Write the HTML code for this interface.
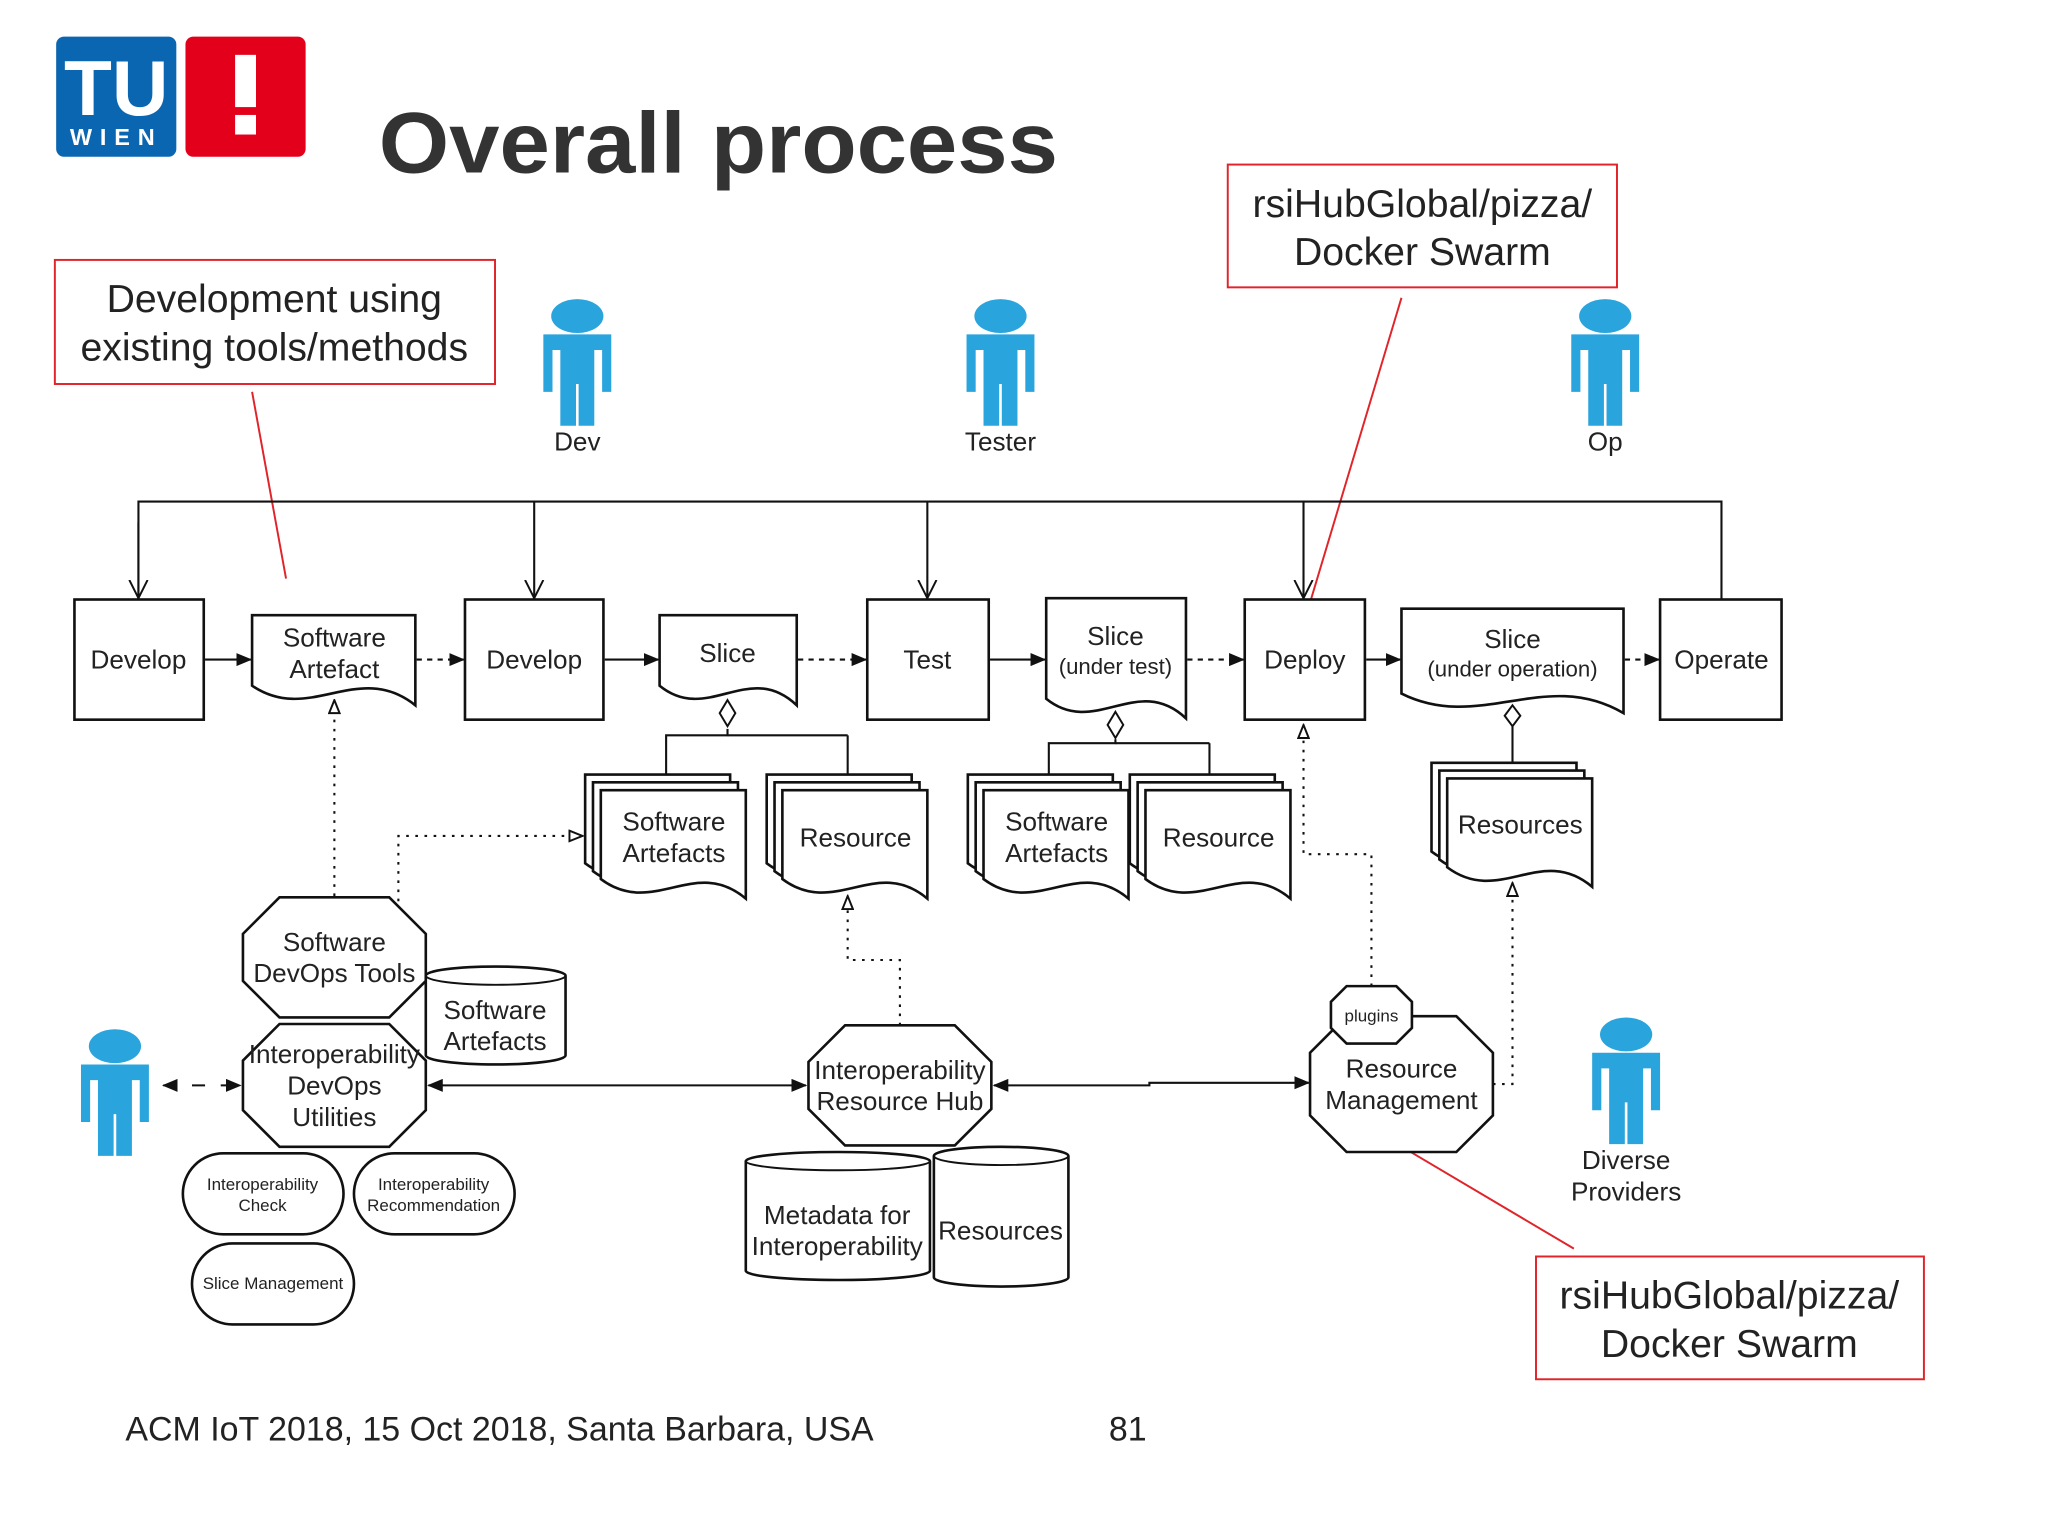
<!DOCTYPE html>
<html><head><meta charset="utf-8"><style>
html,body{margin:0;padding:0;background:#fff;}
svg{display:block;}
text{font-family:"Liberation Sans",sans-serif;fill:#222;}
</style></head><body>
<svg width="2048" height="1536" viewBox="0 0 1568 1176" xmlns="http://www.w3.org/2000/svg">
<defs>
<marker id="af" markerWidth="12" markerHeight="10" refX="11" refY="5" orient="auto" markerUnits="userSpaceOnUse"><path d="M0,0 L12,5 L0,10 Z" fill="#111"/></marker>
<marker id="afs" markerWidth="12" markerHeight="10" refX="1" refY="5" orient="auto" markerUnits="userSpaceOnUse"><path d="M12,0 L0,5 L12,10 Z" fill="#111"/></marker>
<marker id="av" markerWidth="16" markerHeight="16" refX="14" refY="8" orient="auto" markerUnits="userSpaceOnUse"><path d="M0,1 L14,8 L0,15" fill="none" stroke="#111" stroke-width="1.5"/></marker>
<marker id="ao" markerWidth="12" markerHeight="10" refX="11" refY="5" orient="auto" markerUnits="userSpaceOnUse"><path d="M1,1 L11,5 L1,9 Z" fill="#fff" stroke="#111" stroke-width="1.5"/></marker>
<path id="sd" d="M0 0 H111 V83 C72 50 40 98 0 68 Z" fill="#fff" stroke="#111" stroke-width="2"/>
<g id="person"><ellipse cx="0" cy="0" rx="20" ry="13" fill="#2aa4dd"/><path d="M-26 14 H26 V58 H19 V26 H13 V84 H1 V52 H-1 V84 H-13 V26 H-19 V58 H-26 Z" fill="#2aa4dd"/></g>
</defs>
<rect width="1568" height="1176" fill="#fff"/>

<!-- logo -->
<rect x="43" y="28" width="92" height="92" rx="6" fill="#0a66b0"/>
<text x="89" y="88" text-anchor="middle" font-size="60" font-weight="bold" style="fill:#fff">TU</text>
<text x="89" y="111" text-anchor="middle" font-size="18" font-weight="bold" letter-spacing="6" style="fill:#fff">WIEN</text>
<rect x="142" y="28" width="92" height="92" rx="6" fill="#e2001a"/>
<rect x="180" y="42" width="16" height="40" fill="#fff"/><rect x="180" y="88" width="16" height="15" fill="#fff"/>

<text x="290" y="132" font-size="66" font-weight="bold" textLength="520" lengthAdjust="spacingAndGlyphs" style="fill:#333">Overall process</text>

<!-- red callouts -->
<g fill="none" stroke="#e0242a" stroke-width="1.5">
<rect x="42" y="199" width="337" height="95"/>
<rect x="940" y="126" width="298" height="94"/>
<rect x="1176" y="962" width="297" height="94"/>
<line x1="193" y1="300" x2="219" y2="443"/>
<line x1="1073" y1="228" x2="998" y2="478"/>
<line x1="1070" y1="876" x2="1205" y2="956"/>
</g>
<g font-size="30" text-anchor="middle">
<text x="210" y="239">Development using</text><text x="210" y="276">existing tools/methods</text>
<text x="1089" y="166">rsiHubGlobal/pizza/</text><text x="1089" y="203">Docker Swarm</text>
<text x="1324" y="1002">rsiHubGlobal/pizza/</text><text x="1324" y="1039">Docker Swarm</text>
</g>

<!-- persons -->
<use href="#person" x="442" y="242"/>
<use href="#person" x="766" y="242"/>
<use href="#person" x="1229" y="242"/>
<use href="#person" x="88" y="801"/>
<use href="#person" x="1245" y="792"/>
<g font-size="20" text-anchor="middle">
<text x="442" y="345">Dev</text><text x="766" y="345">Tester</text><text x="1229" y="345">Op</text>
<text x="1245" y="895">Diverse</text><text x="1245" y="919">Providers</text>
</g>

<!-- top bus -->
<g fill="none" stroke="#111" stroke-width="1.6">
<polyline points="106,458 106,384 1318,384 1318,459"/>
<line x1="409" y1="384" x2="409" y2="458" marker-end="url(#av)"/>
<line x1="710" y1="384" x2="710" y2="458" marker-end="url(#av)"/>
<line x1="998" y1="384" x2="998" y2="458" marker-end="url(#av)"/>
<line x1="106" y1="400" x2="106" y2="458" marker-end="url(#av)"/>
</g>

<!-- main row -->
<g fill="#fff" stroke="#111" stroke-width="2">
<rect x="57" y="459" width="99" height="92"/>
<path d="M193 471 H318 V540 C274 505 237 555 193 525 Z"/>
<rect x="356" y="459" width="106" height="92"/>
<path d="M505 471 H610 V540 C573 505 542 555 505 525 Z"/>
<rect x="664" y="459" width="93" height="92"/>
<path d="M801 458 H908 V550 C871 515 838 565 801 535 Z"/>
<rect x="953" y="459" width="92" height="92"/>
<path d="M1073 466 H1243 V546 C1183 511 1133 561 1073 531 Z"/>
<rect x="1271" y="459" width="93" height="92"/>
</g>
<g font-size="20" text-anchor="middle">
<text x="106" y="512">Develop</text>
<text x="256" y="495">Software</text><text x="256" y="519">Artefact</text>
<text x="409" y="512">Develop</text>
<text x="557" y="507">Slice</text>
<text x="710" y="512">Test</text>
<text x="854" y="494">Slice</text><text x="854" y="516" font-size="17">(under test)</text>
<text x="999" y="512">Deploy</text>
<text x="1158" y="496">Slice</text><text x="1158" y="518" font-size="17">(under operation)</text>
<text x="1318" y="512">Operate</text>
</g>
<g stroke="#111" stroke-width="1.6" fill="none">
<line x1="157" y1="505" x2="192" y2="505" marker-end="url(#af)"/>
<line x1="319" y1="505" x2="355" y2="505" stroke-dasharray="4,4" marker-end="url(#af)"/>
<line x1="463" y1="505" x2="504" y2="505" marker-end="url(#af)"/>
<line x1="611" y1="505" x2="663" y2="505" stroke-dasharray="4,4" marker-end="url(#af)"/>
<line x1="758" y1="505" x2="800" y2="505" marker-end="url(#af)"/>
<line x1="909" y1="505" x2="952" y2="505" stroke-dasharray="4,4" marker-end="url(#af)"/>
<line x1="1046" y1="505" x2="1072" y2="505" marker-end="url(#af)"/>
<line x1="1244" y1="505" x2="1270" y2="505" stroke-dasharray="4,4" marker-end="url(#af)"/>
<polyline points="557,558 557,563 510,563 510,593"/><line x1="557" y1="563" x2="649" y2="563"/><line x1="649" y1="563" x2="649" y2="593"/>
<polyline points="854,566 854,569 803,569 803,593"/><line x1="854" y1="569" x2="926" y2="569"/><line x1="926" y1="569" x2="926" y2="593"/>
<line x1="1158" y1="554" x2="1158" y2="584"/>
</g>
<g fill="#fff" stroke="#111" stroke-width="1.5">
<path d="M557 536 L563 546 L557 556 L551 546 Z"/>
<path d="M854 545 L860 555 L854 565 L848 555 Z"/>
<path d="M1158 540 L1164 548 L1158 556 L1152 548 Z"/>
</g>

<!-- stacks -->
<use href="#sd" x="448" y="593"/><use href="#sd" x="454" y="599"/><use href="#sd" x="460" y="605"/>
<use href="#sd" x="587" y="593"/><use href="#sd" x="593" y="599"/><use href="#sd" x="599" y="605"/>
<use href="#sd" x="741" y="593"/><use href="#sd" x="747" y="599"/><use href="#sd" x="753" y="605"/>
<use href="#sd" x="865" y="593"/><use href="#sd" x="871" y="599"/><use href="#sd" x="877" y="605"/>
<use href="#sd" x="1096" y="584"/><use href="#sd" x="1102" y="590"/><use href="#sd" x="1108" y="596"/>
<g font-size="20" text-anchor="middle">
<text x="516" y="636">Software</text><text x="516" y="660">Artefacts</text>
<text x="655" y="648">Resource</text>
<text x="809" y="636">Software</text><text x="809" y="660">Artefacts</text>
<text x="933" y="648">Resource</text>
<text x="1164" y="638">Resources</text>
</g>

<!-- dotted connectors -->
<g stroke="#111" stroke-width="1.6" fill="none" stroke-dasharray="2,5">
<line x1="256" y1="686" x2="256" y2="536" marker-end="url(#ao)"/>
<polyline points="305,690 305,640 446,640" marker-end="url(#ao)"/>
<polyline points="689,785 689,735 649,735 649,686" marker-end="url(#ao)"/>
<polyline points="1050,755 1050,654 998,654 998,555" marker-end="url(#ao)"/>
<polyline points="1143,830 1158,830 1158,676" marker-end="url(#ao)"/>
</g>

<!-- octagons etc -->
<g fill="#fff" stroke="#111" stroke-width="2">
<polygon points="214,687 298,687 326,715 326,751 298,779 214,779 186,751 186,715"/>
<path d="M326 747 A53.5 7 0 0 1 433 747 V808 A53.5 7 0 0 1 326 808 Z"/>
<polygon points="214,784 298,784 326,812 326,850 298,878 214,878 186,850 186,812"/>
<polygon points="647,785 731,785 759,813 759,849 731,877 647,877 619,849 619,813"/>
<polygon points="1031,778 1115,778 1143,806 1143,854 1115,882 1031,882 1003,854 1003,806"/>
<polygon points="1031,755 1069,755 1081,767 1081,787 1069,799 1031,799 1019,787 1019,767"/>
<path d="M571 889 A70.5 7 0 0 1 712 889 V973 A70.5 7 0 0 1 571 973 Z"/>
<path d="M715 885 A51.5 7 0 0 1 818 885 V978 A51.5 7 0 0 1 715 978 Z"/>
<rect x="140" y="883" width="123" height="62" rx="31"/>
<rect x="271" y="883" width="123" height="62" rx="31"/>
<rect x="147" y="952" width="124" height="62" rx="31"/>
</g>
<g fill="none" stroke="#111" stroke-width="1.5">
<path d="M326 747 A53.5 7 0 0 0 433 747"/>
<path d="M571 889 A70.5 7 0 0 0 712 889"/>
<path d="M715 885 A51.5 7 0 0 0 818 885"/>
</g>
<g font-size="20" text-anchor="middle">
<text x="256" y="728">Software</text><text x="256" y="752">DevOps Tools</text>
<text x="379" y="780">Software</text><text x="379" y="804">Artefacts</text>
<text x="256" y="814">Interoperability</text><text x="256" y="838">DevOps</text><text x="256" y="862">Utilities</text>
<text x="689" y="826">Interoperability</text><text x="689" y="850">Resource Hub</text>
<text x="1073" y="825">Resource</text><text x="1073" y="849">Management</text>
<text x="1050" y="782" font-size="13">plugins</text>
<text x="641" y="937">Metadata for</text><text x="641" y="961">Interoperability</text>
<text x="766" y="949">Resources</text>
<text x="201" y="911" font-size="13">Interoperability</text><text x="201" y="927" font-size="13">Check</text>
<text x="332" y="911" font-size="13">Interoperability</text><text x="332" y="927" font-size="13">Recommendation</text>
<text x="209" y="987" font-size="13">Slice Management</text>
</g>

<g stroke="#111" stroke-width="1.6" fill="none">
<line x1="328" y1="831" x2="617" y2="831" marker-start="url(#afs)" marker-end="url(#af)"/>
<polyline points="761,831 880,831 880,829 1002,829" marker-start="url(#afs)" marker-end="url(#af)"/>
<line x1="125" y1="831" x2="184" y2="831" stroke-dasharray="10,12" marker-start="url(#afs)" marker-end="url(#af)"/>
</g>

<text x="96" y="1103" font-size="26">ACM IoT 2018, 15 Oct 2018, Santa Barbara, USA</text>
<text x="849" y="1103" font-size="26">81</text>
</svg>
</body></html>
